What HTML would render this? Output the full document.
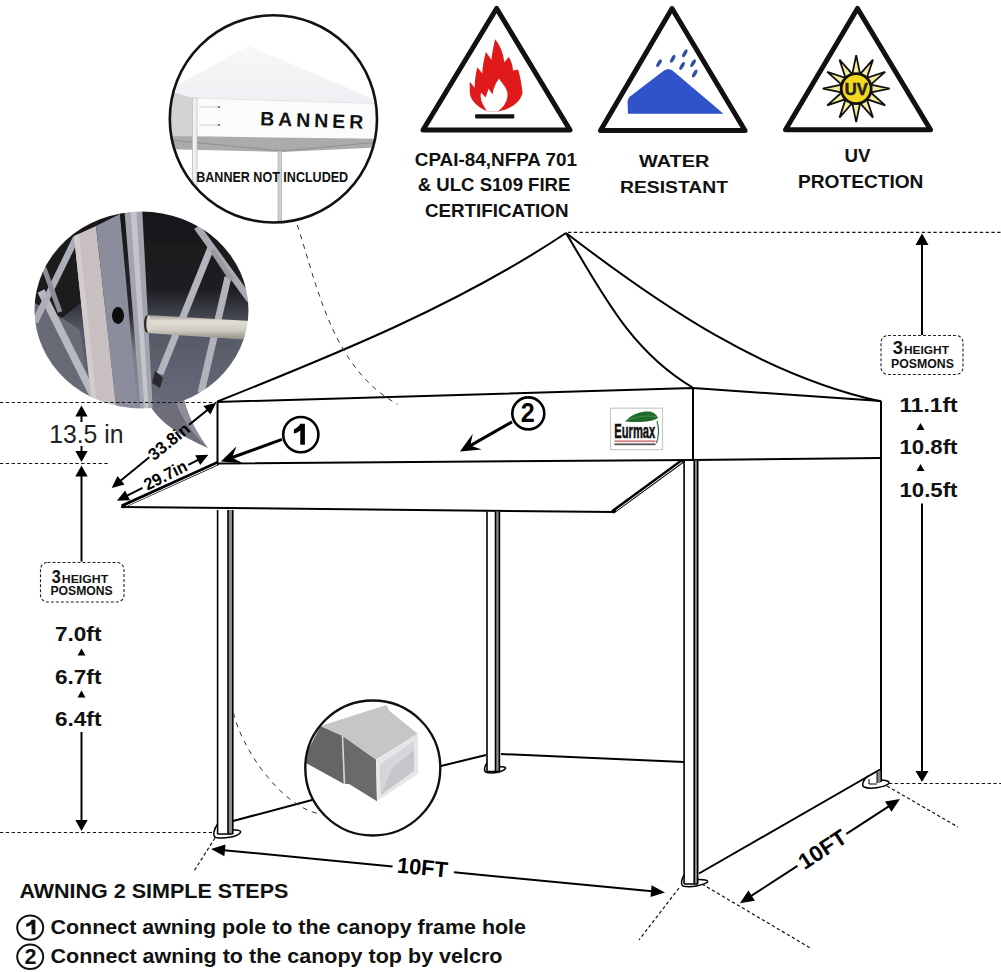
<!DOCTYPE html>
<html><head><meta charset="utf-8">
<style>
html,body{margin:0;padding:0;background:#fff;width:1001px;height:972px;overflow:hidden}
svg{display:block}
text{font-family:"Liberation Sans",sans-serif}
</style></head><body>
<svg width="1001" height="972" viewBox="0 0 1001 972">
<rect width="1001" height="972" fill="#fff"/>

<!-- TENT -->
<g id="tent" fill="none" stroke="#000" stroke-width="2" stroke-linejoin="round">
  <path d="M217.5,401.5 C336.6,354 459.2,304.5 566,233"/>
  <path d="M566,233 C601.9,292.5 630.2,350.6 692.5,387.5"/>
  <path d="M566,233 C660.6,305.4 762.8,375.6 881,401.5"/>
  <path d="M217,402 L693,388 L881,401"/>
  <path d="M217,463.5 L693,460 L881,458"/>
  <path d="M217.5,401 L217.5,464"/>
  <path d="M693,388 L693,460"/>
  <path d="M881,401 L881,782"/>
  <path d="M121,507 L614,512"/>
  <path d="M122,506.5 L218,463" stroke-width="4.2" stroke-linecap="butt"/>
  <path d="M126,506 L217,464.5" stroke="#fff" stroke-width="1" stroke-linecap="butt"/>
  <path d="M612.5,512 L683,460.5" stroke-width="4.2" stroke-linecap="butt"/>
  <path d="M616,510.5 L682,462" stroke="#fff" stroke-width="1" stroke-linecap="butt"/>
  <!-- ground lines -->
  <path d="M233,821 L312,800"/>
  <path d="M441,766 L486,755"/>
  <path d="M501,754 L684,762"/>
  <path d="M699,873.5 L880,769.5"/>
</g>

<!-- poles -->
<g id="poles">
<rect x="228" y="510" width="4.800000000000011" height="324" fill="#8c8c8c"/><path d="M217.6,510 V834 M228,510 V834 M232.8,510 V834 M217.6,834 H232.8" stroke="#000" stroke-width="1.6" fill="none"/>
<rect x="495.5" y="511.5" width="3.8999999999999773" height="260.0" fill="#8c8c8c"/><path d="M487,511.5 V771.5 M495.5,511.5 V771.5 M499.4,511.5 V771.5 M487,771.5 H499.4" stroke="#000" stroke-width="1.6" fill="none"/>
<rect x="694.2" y="460.5" width="3.5" height="423.5" fill="#8c8c8c"/><path d="M684.1,460.5 V884 M694.2,460.5 V884 M697.7,460.5 V884 M684.1,884 H697.7" stroke="#000" stroke-width="1.6" fill="none"/>
<rect x="877" y="771" width="3.5" height="12" fill="#888"/><path d="M877,771 V783" stroke="#000" stroke-width="1"/>
</g>
<!-- feet -->
<g fill="none" stroke="#000" stroke-width="1.5">
  <path d="M217.6,824 C214,829 212,836 216,837.5 C224,839 237,837 240.5,832.5 C241.5,830.5 237,829.8 232.8,829.8"/>
  <path d="M487,763 C484.5,766 483,771.5 487,772.5 C494,774 503,771.5 505.5,768.5 C506,767 503,766.5 499.4,766.8"/>
  <path d="M684.1,875 C681.5,879 680,885.5 684,886.3 C692,887.5 704,885 707.5,882 C708.5,880 704,879.3 697.7,879.5"/>
  <path d="M868,776 C864,778.5 861,785 864,787 C870,789.5 884,787.5 889,783.5 C890,781.5 886,780 881,780"/>
  <path d="M869,779 V784 H877" stroke-width="1"/>
</g>



<defs><clipPath id="cb"><circle cx="273.4" cy="118.9" r="103"/></clipPath><clipPath id="cp"><ellipse cx="141.5" cy="310" rx="107" ry="98.5"/></clipPath><clipPath id="ct"><circle cx="372.8" cy="768" r="67"/></clipPath><linearGradient id="pbg" x1="0" y1="0" x2="0" y2="1"><stop offset="0" stop-color="#161618"/><stop offset="0.4" stop-color="#1e1e22"/><stop offset="0.6" stop-color="#555966"/><stop offset="1" stop-color="#6a6d7c"/></linearGradient><linearGradient id="rod" x1="0" y1="0" x2="0" y2="1"><stop offset="0" stop-color="#9e9a92"/><stop offset="0.25" stop-color="#e2ded6"/><stop offset="0.6" stop-color="#d0ccc4"/><stop offset="1" stop-color="#8e8a84"/></linearGradient><linearGradient id="roof" x1="0" y1="0" x2="0" y2="1"><stop offset="0" stop-color="#f8f8fa"/><stop offset="1" stop-color="#eeeef2"/></linearGradient><linearGradient id="dstrip" x1="0" y1="0" x2="0" y2="1"><stop offset="0" stop-color="#161618"/><stop offset="0.5" stop-color="#2a2a2e"/><stop offset="0.7" stop-color="#7c7e8c"/><stop offset="1" stop-color="#8a8c9a"/></linearGradient><filter id="blur1"><feGaussianBlur stdDeviation="0.6"/></filter></defs>
<g clip-path="url(#cb)">
<rect x="160" y="10" width="230" height="220" fill="#fff"/>
<path d="M165,92 L248.7,45.8 L390,106 L390,112 L193,100 L165,92z" fill="url(#roof)"/>
<path d="M165,90 L193,98 L193,137 L165,136z" fill="#d2d2d4"/>
<path d="M193,98 L390,104 L390,142 L193,136z" fill="#fbfbfb" stroke="#e0e0e0" stroke-width="0.8"/>
<path d="M165,136 L390,139 L390,147 L282,152 L165,149z" fill="#ababad"/>
<path d="M170,140 L282,151 L390,141" stroke="#909092" stroke-width="1" fill="none"/>
<rect x="192.5" y="98" width="4.5" height="130" fill="#f0f0f0" stroke="#c0c0c0" stroke-width="0.8"/>
<rect x="278" y="151" width="3.5" height="80" fill="#d0d0d0" stroke="#a0a0a0" stroke-width="0.6"/>
<path d="M199,107 H219 M199,125 H219" stroke="#c4c4c4" stroke-width="0.8" fill="none"/><circle cx="219" cy="107" r="1.1" fill="#666"/><circle cx="219" cy="125" r="1.1" fill="#666"/>
<text x="311.5" y="127" transform="rotate(2 311.5 127)" font-size="19.5" font-weight="bold" text-anchor="middle" textLength="103" lengthAdjust="spacing" fill="#111">BANNER</text>
<text x="272.2" y="182.2" font-size="14.2" font-weight="bold" text-anchor="middle" textLength="152" lengthAdjust="spacingAndGlyphs" fill="#111">BANNER NOT INCLUDED</text>
</g>
<circle cx="273.4" cy="118.9" r="103.6" fill="none" stroke="#111" stroke-width="2.6"/>
<path d="M148,402 C157,420 176,434 208,448 C199,436 190,422 184,400z" fill="#6e6e7a"/>
<path d="M176,402 C182,420 194,435 208,448 C199,436 190,422 184,400z" fill="#8e8e9a"/>
<g clip-path="url(#cp)"><g filter="url(#blur1)">
<rect x="30" y="205" width="225" height="210" fill="url(#pbg)"/>
<path d="M30,300 L62,318 L80,330 L92,415 L30,415z" fill="#686a76"/>
<path d="M30,225 L74,236 L84,300 L62,318 L30,300z" fill="#1c1c1e"/>
<path d="M41,291 L93,395" stroke="#b8b8c0" stroke-width="7.5" fill="none"/>
<path d="M35,322 L76,238" stroke="#aeaeb8" stroke-width="6.5" fill="none"/>
<path d="M44,268 L60,312" stroke="#8c8c96" stroke-width="5" fill="none"/>
<path d="M74,236 L96,226 L117,415 L93,415z" fill="#c8c0c0"/>
<path d="M74,236 L79,234 L98,415 L93,415z" fill="#d4cccc"/>
<path d="M96,226 L120,214 L141,415 L117,415z" fill="#8c8d9c"/>
<path d="M120,214 L125,212 L143,415 L138,415z" fill="url(#dstrip)"/>
<path d="M124,205 L142,205 L153,415 L141,415z" fill="#a4a4ae"/>
<path d="M130,205 L136,205 L149,415 L145,415z" fill="#c4c4cc"/>
<path d="M212,245 L160,374" stroke="#b4b4bc" stroke-width="7" fill="none"/>
<path d="M228,277 L201,393" stroke="#b2b2ba" stroke-width="7" fill="none"/>
<path d="M197,227 L250,300" stroke="#aaaab2" stroke-width="7" fill="none"/>
<path d="M212,250 L232,280" stroke="#9a9aa2" stroke-width="5" fill="none"/>
<path d="M155,371 L163,378 L160,388 L152,383z" fill="#2a2a2e"/>
<path d="M146,315 L252,321 L252,340 L146,333z" fill="url(#rod)"/>
<ellipse cx="147" cy="324" rx="3" ry="8.8" fill="#2a2a2a"/>
<ellipse cx="148.5" cy="324" rx="2.2" ry="8.2" fill="#d8d4cc"/>
<ellipse cx="118" cy="315.5" rx="6" ry="8.5" fill="#0a0a0a"/>
</g></g>
<g clip-path="url(#ct)">
<rect x="300" y="695" width="150" height="150" fill="#fff"/>
<path d="M304,758 L320.5,726 L342,735.6 L344,784 L304,762z" fill="#656565"/>
<path d="M342,735.6 L376,759.6 L377,801.3 L349,784 L344,784z" fill="#6a6a6a"/>
<path d="M320.5,726 L386.3,705 L389,710.5 L417.8,733.7 L376,759.6 L342,735.6z" fill="#c6c6c6"/>
<path d="M342.5,736 L344.5,784" stroke="#d4d4d4" stroke-width="1.6"/>
<path d="M376,760 L418,733 L418,774 L377,801z" fill="#e6e6e8"/>
<path d="M380,765 L414,741 L414,771 L381,795z" fill="#c6c6ca"/>
<path d="M380,765 L414,741 L414,750 L392,768 L381,795z" fill="#d6d6da"/>
</g>
<circle cx="372.8" cy="768" r="67.5" fill="none" stroke="#111" stroke-width="2.4"/>
<!-- DASHED -->
<g fill="none" stroke="#111" stroke-width="1.2" stroke-dasharray="3.3 2.5">
  <path d="M0,402.5 H216"/>
  <path d="M0,463.5 H109"/>
  <path d="M0,832.5 H214"/>
  <path d="M568,232.3 H1001"/>
  <path d="M889,783.5 H1001"/>
  <path d="M887,786 L958,827"/>
  <path d="M702,884 L812,949"/>
  <path d="M679,888 L639,940"/>
  <path d="M215,838 L194,871"/>
</g>
<g fill="none" stroke="#333" stroke-width="1" stroke-dasharray="5 5">
  <path d="M297.3,225 C317.9,288 332.5,368.4 397.7,404.4"/>
  <path d="M233.5,713 C241.5,748 279.9,804.6 317.6,813.5"/>
</g>

<!-- ARROWS -->
<g stroke="#000" stroke-width="2" fill="none">
  <path d="M81.5,416 V422"/>
  <path d="M81.5,446 V452"/>
  <path d="M81.5,476 V561.5"/>
  <path d="M81.5,732 V820"/>
  <path d="M922,245 V335"/>
  <path d="M922,503.5 V771"/>
</g>
<g fill="#000">
  <path d="M81.5,405.5 L75.3,416.5 L87.7,416.5z"/>
  <path d="M81.5,462 L75.3,451 L87.7,451z"/>
  <path d="M81.5,465.5 L75.3,476.5 L87.7,476.5z"/>
  <path d="M81.5,831 L75.3,820 L87.7,820z"/>
  <path d="M922,233.5 L915.5,245 L928.5,245z"/>
  <path d="M922,782 L915.5,771 L928.5,771z"/>
  <path d="M81.5,648.5 L77.5,655.5 L85.5,655.5z"/>
  <path d="M81.5,690.5 L77.5,697.5 L85.5,697.5z"/>
  <path d="M920.5,423 L916.5,430 L924.5,430z"/>
  <path d="M920.5,464 L916.5,471 L924.5,471z"/>
</g>


<path d="M120.2,481.0 L149.3,457.3 M189.0,424.9 L207.7,409.7" stroke="#000" stroke-width="2" fill="none"/>
<path d="M111.7,487.9 L117.5,476.1 L124.5,484.6z" fill="#000"/>
<path d="M216.2,402.8 L210.4,414.6 L203.4,406.1z" fill="#000"/>
<text x="0" y="0" transform="translate(169.2,441.8) rotate(-39.20)" font-size="17" font-weight="bold" text-anchor="middle" dominant-baseline="central" textLength="48" lengthAdjust="spacingAndGlyphs" fill="#000">33.8in</text>
<path d="M126.7,495.9 L142.5,487.9 M188.3,464.8 L198.6,459.6" stroke="#000" stroke-width="2" fill="none"/>
<path d="M116.9,500.8 L125.1,490.5 L130.1,500.3z" fill="#000"/>
<path d="M208.4,454.7 L200.2,465.0 L195.2,455.2z" fill="#000"/>
<text x="0" y="0" transform="translate(165.6,475.5) rotate(-26.70)" font-size="17" font-weight="bold" text-anchor="middle" dominant-baseline="central" textLength="46" lengthAdjust="spacingAndGlyphs" fill="#000">29.7in</text>
<path d="M223.9,850.2 L392.6,866.4 M453.9,872.3 L652.1,891.3" stroke="#000" stroke-width="2" fill="none"/>
<path d="M211.0,849.0 L225.5,844.4 L224.4,856.3z" fill="#000"/>
<path d="M665.0,892.5 L650.5,897.1 L651.6,885.2z" fill="#000"/>
<text x="0" y="0" transform="translate(422.5,867.5) rotate(5.50)" font-size="22" font-weight="bold" text-anchor="middle" dominant-baseline="central" textLength="51" lengthAdjust="spacingAndGlyphs" fill="#000">10FT</text>
<path d="M750.8,896.2 L797.5,865.8 M846.4,833.9 L889.1,806.1" stroke="#000" stroke-width="2" fill="none"/>
<path d="M739.9,903.3 L748.4,890.6 L754.9,900.7z" fill="#000"/>
<path d="M900.0,799.0 L891.5,811.7 L885.0,801.6z" fill="#000"/>
<text x="0" y="0" transform="translate(822.6,849.4) rotate(-33.10)" font-size="22" font-weight="bold" text-anchor="middle" dominant-baseline="central" textLength="53" lengthAdjust="spacingAndGlyphs" fill="#000">10FT</text>
<path d="M282.0,439.4 L232.1,457.5" stroke="#000" stroke-width="3" fill="none"/><path d="M220.8,461.6 L236.5,446.3 L232.1,457.5 L242.7,463.2z" fill="#000"/>
<circle cx="300.8" cy="434.6" r="17.6" fill="#fff" stroke="#000" stroke-width="2.6"/>
<path d="M300.3,423.8 L304.9,423.8 L304.9,444.8 L300.3,444.8 L300.3,430.5 C298.5,432 296.2,433 293.9,433.6 L293.9,429.4 C296.8,428.3 299,426.3 300.3,423.8z" fill="#000"/>
<path d="M512.0,421.9 L470.3,445.6" stroke="#000" stroke-width="3" fill="none"/><path d="M459.9,451.5 L472.8,433.8 L470.3,445.6 L481.7,449.4z" fill="#000"/>
<circle cx="528.3" cy="413.4" r="16" fill="#fff" stroke="#000" stroke-width="2.6"/>
<text x="527.7" y="422.4" font-size="27" font-weight="bold" text-anchor="middle" textLength="14" lengthAdjust="spacingAndGlyphs">2</text>
<path d="M496.6,8.5 L570,130 L423,130z" fill="#fff" stroke="#111" stroke-width="5" stroke-linejoin="round"/>
<path d="M672,8.5 L745,130.5 L600.5,130.5z" fill="#fff" stroke="#111" stroke-width="5" stroke-linejoin="round"/>
<path d="M857.5,8.5 L930.5,129.8 L785.5,129.8z" fill="#fff" stroke="#111" stroke-width="5" stroke-linejoin="round"/>
<g transform="translate(460,30) scale(0.09778)"><path d="M275,830 C180,790 105,720 100,640 L100,530 L150,590 C150,500 165,430 178,380 L228,445 C232,350 250,280 265,225 L322,305 C330,220 345,150 360,95 C410,160 445,240 452,330 L500,275 C525,320 540,360 542,415 L595,405 C615,470 630,560 640,640 C620,740 520,810 385,835 Z" fill="#e01a1a"/><path d="M275,830 C230,760 200,700 215,640 L262,690 L292,600 L332,660 C342,590 372,530 400,495 C420,540 470,570 485,640 C495,720 450,790 385,835 Z" fill="#fff"/><rect x="155" y="862" width="400" height="42" rx="6" fill="#111"/></g>
<path d="M628,113.7 L627.5,102 Q628,97 632,95 L664,70.5 Q668.4,67.5 672.5,70.5 L723.5,113.7 Z" fill="#3153c9"/>
<ellipse cx="659" cy="63.2" rx="1.8" ry="4.4" transform="rotate(30 659 63.2)" fill="#2f4f9f"/>
<ellipse cx="672.7" cy="58.8" rx="1.8" ry="4.4" transform="rotate(30 672.7 58.8)" fill="#2f4f9f"/>
<ellipse cx="684.8" cy="53.3" rx="1.8" ry="4.4" transform="rotate(30 684.8 53.3)" fill="#2f4f9f"/>
<ellipse cx="682.1" cy="65.9" rx="1.8" ry="4.4" transform="rotate(30 682.1 65.9)" fill="#2f4f9f"/>
<ellipse cx="693.1" cy="63.2" rx="1.8" ry="4.4" transform="rotate(30 693.1 63.2)" fill="#2f4f9f"/>
<ellipse cx="694.7" cy="73.6" rx="1.8" ry="4.4" transform="rotate(30 694.7 73.6)" fill="#2f4f9f"/>
<path d="M856.2,55.1 L860.1,74.1 L852.3,74.1z M873.0,59.6 L866.8,78.0 L860.1,74.1z M885.2,71.8 L870.7,84.7 L866.8,78.0z M889.7,88.6 L870.7,92.5 L870.7,84.7z M885.2,105.3 L866.8,99.2 L870.7,92.5z M873.0,117.6 L860.1,103.1 L866.8,99.2z M856.2,122.1 L852.3,103.1 L860.1,103.1z M839.5,117.6 L845.6,99.2 L852.3,103.1z M827.2,105.3 L841.7,92.5 L845.6,99.2z M822.7,88.6 L841.7,84.7 L841.7,92.5z M827.2,71.8 L845.6,78.0 L841.7,84.7z M839.5,59.6 L852.3,74.1 L845.6,78.0z" fill="#f3ef9c" stroke="#111" stroke-width="1.8" stroke-linejoin="miter"/>
<circle cx="856.2" cy="88.6" r="15" fill="#f4d820" stroke="#111" stroke-width="2.8"/>
<text x="856.2" y="95" font-size="17" font-weight="bold" text-anchor="middle" textLength="23" lengthAdjust="spacingAndGlyphs" fill="#222" stroke="#222" stroke-width="0.6">UV</text>
<text x="495.9" y="165.7" font-size="17.8" font-weight="bold" text-anchor="middle" textLength="162.3" lengthAdjust="spacingAndGlyphs" fill="#111">CPAI-84,NFPA 701</text>
<text x="494.1" y="191.2" font-size="17.8" font-weight="bold" text-anchor="middle" textLength="152.6" lengthAdjust="spacingAndGlyphs" fill="#111">&amp; ULC S109 FIRE</text>
<text x="496.7" y="216.6" font-size="17.8" font-weight="bold" text-anchor="middle" textLength="143.6" lengthAdjust="spacingAndGlyphs" fill="#111">CERTIFICATION</text>
<text x="674.2" y="167.4" font-size="17.4" font-weight="bold" text-anchor="middle" textLength="70.4" lengthAdjust="spacingAndGlyphs" fill="#111">WATER</text>
<text x="674.0" y="193" font-size="17.4" font-weight="bold" text-anchor="middle" textLength="108.0" lengthAdjust="spacingAndGlyphs" fill="#111">RESISTANT</text>
<text x="857.5" y="162" font-size="18" font-weight="bold" text-anchor="middle" textLength="26.0" lengthAdjust="spacingAndGlyphs" fill="#111">UV</text>
<text x="860.7" y="188" font-size="18" font-weight="bold" text-anchor="middle" textLength="125.4" lengthAdjust="spacingAndGlyphs" fill="#111">PROTECTION</text>
<rect x="881" y="335.5" width="82" height="39" rx="7" fill="#fff" stroke="#222" stroke-width="1.1" stroke-dasharray="3 2"/>
<text x="897.9" y="353.5" font-size="18" font-weight="bold" text-anchor="middle" textLength="10.2" lengthAdjust="spacingAndGlyphs" fill="#111">3</text>
<text x="926.5" y="353.5" font-size="11.5" font-weight="bold" text-anchor="middle" textLength="45.0" lengthAdjust="spacingAndGlyphs" fill="#111">HEIGHT</text>
<text x="922.5" y="368" font-size="12.5" font-weight="bold" text-anchor="middle" textLength="63.0" lengthAdjust="spacingAndGlyphs" fill="#111">POSMONS</text>
<text x="928.5" y="411.6" font-size="20.5" font-weight="bold" text-anchor="middle" textLength="58.0" lengthAdjust="spacingAndGlyphs" fill="#111">11.1ft</text>
<text x="928.5" y="454" font-size="20.5" font-weight="bold" text-anchor="middle" textLength="58.0" lengthAdjust="spacingAndGlyphs" fill="#111">10.8ft</text>
<text x="928.5" y="496.5" font-size="20.5" font-weight="bold" text-anchor="middle" textLength="58.0" lengthAdjust="spacingAndGlyphs" fill="#111">10.5ft</text>
<rect x="40.5" y="562.5" width="83.5" height="39.5" rx="7" fill="#fff" stroke="#222" stroke-width="1.1" stroke-dasharray="3 2"/>
<text x="56.2" y="582.5" font-size="18" font-weight="bold" text-anchor="middle" textLength="9.0" lengthAdjust="spacingAndGlyphs" fill="#111">3</text>
<text x="85.0" y="582.5" font-size="11.5" font-weight="bold" text-anchor="middle" textLength="46.4" lengthAdjust="spacingAndGlyphs" fill="#111">HEIGHT</text>
<text x="81.6" y="595.4" font-size="12.5" font-weight="bold" text-anchor="middle" textLength="62.2" lengthAdjust="spacingAndGlyphs" fill="#111">POSMONS</text>
<text x="78.2" y="640.6" font-size="21" font-weight="bold" text-anchor="middle" textLength="46.4" lengthAdjust="spacingAndGlyphs" fill="#111">7.0ft</text>
<text x="78.2" y="683.6" font-size="21" font-weight="bold" text-anchor="middle" textLength="46.4" lengthAdjust="spacingAndGlyphs" fill="#111">6.7ft</text>
<text x="78.2" y="726" font-size="21" font-weight="bold" text-anchor="middle" textLength="46.4" lengthAdjust="spacingAndGlyphs" fill="#111">6.4ft</text>
<text x="86.3" y="442.8" font-size="26" font-weight="normal" text-anchor="middle" textLength="74.2" lengthAdjust="spacingAndGlyphs" fill="#222">13.5 in</text>
<text x="19.4" y="898" font-size="19.6" font-weight="bold" textLength="269" lengthAdjust="spacingAndGlyphs" fill="#111">AWNING 2 SIMPLE STEPS</text>
<text x="50.5" y="933.5" font-size="20.7" font-weight="bold" textLength="475.5" lengthAdjust="spacingAndGlyphs" fill="#111">Connect awning pole to the canopy frame hole</text>
<text x="50.5" y="962.5" font-size="20.7" font-weight="bold" textLength="452" lengthAdjust="spacingAndGlyphs" fill="#111">Connect awning to the canopy top by velcro</text>
<ellipse cx="30.2" cy="927.6" rx="13" ry="12.2" fill="none" stroke="#111" stroke-width="2"/>
<path d="M31.6,919.8 L35.4,919.8 L35.4,934.3 L31.6,934.3 L31.6,924.6 C30,925.8 28,926.6 26.2,927.1 L26.2,923.8 C28.6,923 30.6,921.6 31.6,919.8z" fill="#111"/>
<ellipse cx="30.2" cy="956.8" rx="13" ry="12.2" fill="none" stroke="#111" stroke-width="2"/>
<text x="30.5" y="964" font-size="21.5" font-weight="bold" text-anchor="middle" textLength="12" lengthAdjust="spacingAndGlyphs" fill="#111">2</text>
<rect x="610.5" y="408.2" width="52" height="41.5" fill="#fff" stroke="#c8c8c8" stroke-width="1.2"/>
<path d="M625,421.5 C632,414 640,411.5 648,411.5 C653,411.5 656,414 658,418 C652,421.5 642,423 625,421.5z" fill="#1f6b2a"/>
<path d="M628,420 C638,416 648,415 657,417" stroke="#5a9a5a" stroke-width="0.7" fill="none"/>
<path d="M657,421 C659,428 659,436 656.5,443" stroke="#1f6b2a" stroke-width="1.1" fill="none"/>
<text x="634.8" y="438.4" font-size="19.5" font-weight="bold" text-anchor="middle" textLength="41" lengthAdjust="spacingAndGlyphs" fill="#111" stroke="#111" stroke-width="0.5">Eurmax</text>
<rect x="614.5" y="440.3" width="41" height="1.8" fill="#d08080"/>
<rect x="614.5" y="443.4" width="41" height="1.8" fill="#555"/>
</svg>
</body></html>
